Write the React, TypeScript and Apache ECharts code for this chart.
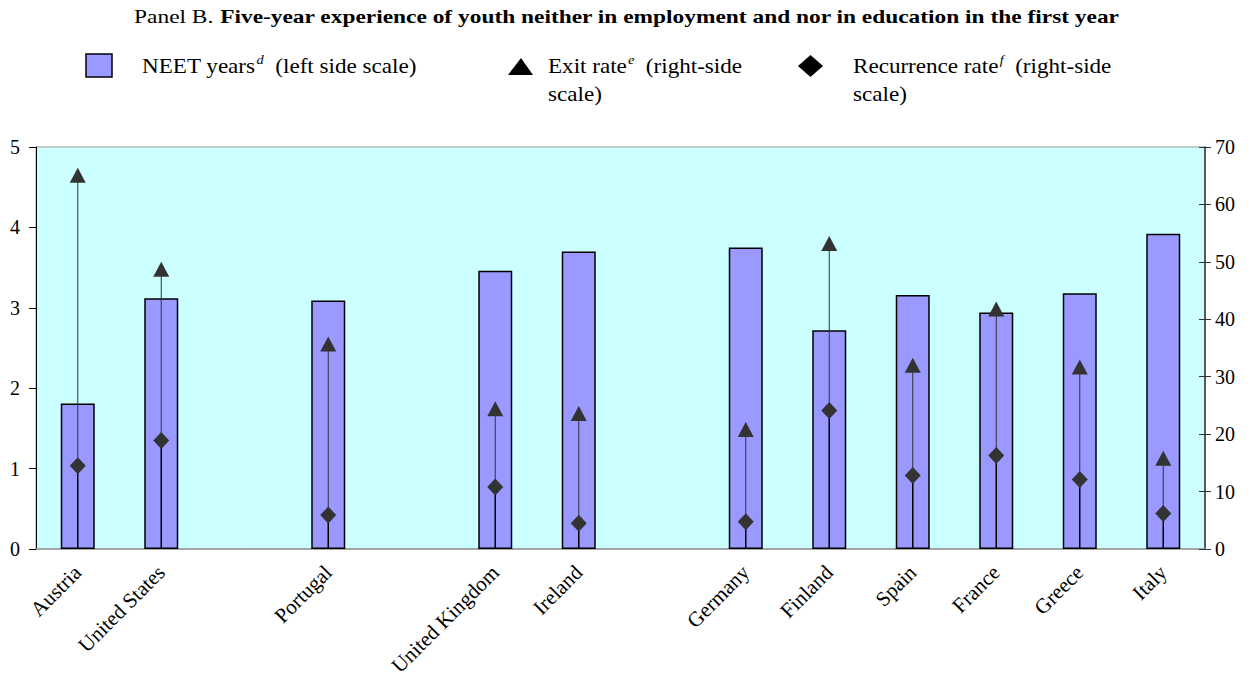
import React, { useEffect, useRef } from "react";
import * as echarts from "echarts";

const categories = ["Austria", "United States", "", "Portugal", "", "United Kingdom", "Ireland", "", "Germany", "Finland", "Spain", "France", "Greece", "Italy"];
const neetYears = [1.81, 3.12, null, 3.09, null, 3.46, 3.7, null, 3.75, 2.72, 3.16, 2.94, 3.18, 3.92];
const exitRate = [65.1, 48.7, null, 35.7, null, 24.4, 23.6, null, 20.8, 53.2, 32.0, 41.8, 31.7, 15.8];
const recurrenceRate = [14.5, 18.9, null, 5.9, null, 10.8, 4.5, null, 4.75, 24.1, 12.8, 16.3, 12.1, 6.2];
const leftTicks = [0, 5, 1];
const rightTicks = [0, 70, 10];

const FONT = "'Liberation Serif', 'Times New Roman', serif";

export default function App() {
  const ref = useRef<HTMLDivElement>(null);
  useEffect(() => {
    const chart = echarts.init(ref.current!, null, { renderer: "svg" });
    const lineData = categories
      .map((_, i) => [i, recurrenceRate[i], exitRate[i]])
      .filter((d) => d[1] != null && d[2] != null);
    const sup = { fontFamily: FONT, fontSize: 13, fontStyle: "italic", color: "#000", verticalAlign: "top", padding: [0, 0, 12, 1] };
    const norm = { fontFamily: FONT, fontSize: 21, color: "#000" };
    const LSX = 1.1;
    const option: any = {
      animation: false,
      textStyle: { fontFamily: FONT },
      grid: {
        left: 36,
        right: 47,
        top: 147,
        bottom: 135,
        show: true,
        backgroundColor: "#CCFFFF",
        borderColor: "#999",
        borderWidth: 1,
      },
      xAxis: {
        type: "category",
        data: categories,
        axisLine: { show: true, lineStyle: { color: "#999", width: 1.5 } },
        axisTick: { show: false },
        axisLabel: { interval: 0, rotate: 45, fontFamily: FONT, fontSize: 21, color: "#000", margin: 20, padding: [0, 0, 0, 0] },
      },
      yAxis: [
        {
          type: "value",
          min: leftTicks[0],
          max: leftTicks[1],
          interval: leftTicks[2],
          position: "left",
          axisLine: { show: true, lineStyle: { color: "#000", width: 1 } },
          axisTick: { show: true, length: 7, lineStyle: { color: "#000" } },
          axisLabel: { fontFamily: FONT, fontSize: 20, color: "#000", margin: 16 },
          splitLine: { show: false },
        },
        {
          type: "value",
          min: rightTicks[0],
          max: rightTicks[1],
          interval: rightTicks[2],
          position: "right",
          axisLine: { show: true, lineStyle: { color: "#333", width: 1.5 } },
          axisTick: { show: true, length: 6, lineStyle: { color: "#333" } },
          axisLabel: { fontFamily: FONT, fontSize: 20, color: "#000", margin: 10 },
          splitLine: { show: false },
        },
        {
          type: "value",
          min: rightTicks[0],
          max: rightTicks[1],
          interval: rightTicks[2],
          position: "right",
          axisLine: { show: false },
          axisTick: { show: true, inside: true, length: 6, lineStyle: { color: "#333" } },
          axisLabel: { show: false },
          splitLine: { show: false },
        },
      ],
      series: [
        {
          type: "bar",
          name: "NEET years",
          data: neetYears.map((v) => (v == null ? "-" : v)),
          barWidth: 34,
          itemStyle: { color: "#9999FF", borderColor: "#000", borderWidth: 1.5 },
          z: 2,
        },
        {
          type: "custom",
          yAxisIndex: 1,
          data: lineData,
          encode: { x: 0, y: 2 },
          z: 3,
          renderItem: (params: any, api: any) => {
            const x = api.value(0);
            const p0 = api.coord([x, 0]);
            const p1 = api.coord([x, api.value(1)]);
            const p2 = api.coord([x, api.value(2)]);
            return {
              type: "group",
              children: [
                { type: "line", shape: { x1: p0[0], y1: p0[1], x2: p1[0], y2: p1[1] }, style: { stroke: "#000", lineWidth: 1.5 } },
                { type: "line", shape: { x1: p1[0], y1: p1[1], x2: p2[0], y2: p2[1] }, style: { stroke: "#333", lineWidth: 1 } },
              ],
            };
          },
        },
        {
          type: "scatter",
          name: "Exit rate",
          yAxisIndex: 1,
          data: exitRate.map((v) => (v == null ? "-" : v)),
          symbol: "triangle",
          symbolSize: [16, 15],
          itemStyle: { color: "#333", opacity: 1 },
          z: 4,
        },
        {
          type: "scatter",
          name: "Recurrence rate",
          yAxisIndex: 1,
          data: recurrenceRate.map((v) => (v == null ? "-" : v)),
          symbol: "diamond",
          symbolSize: [16, 17],
          itemStyle: { color: "#333", opacity: 1 },
          z: 4,
        },
      ],
      graphic: [
        {
          type: "text",
          x: 627,
          y: 17,
          scaleX: 1.3,
          style: {
            text: "{a|Panel B. }{b|Five-year experience of youth neither in employment and nor in education in the first year}",
            align: "center",
            verticalAlign: "middle",
            fontFamily: FONT,
            fontSize: 18,
            rich: {
              a: { fontFamily: FONT, fontSize: 18, fontWeight: "normal", color: "#000" },
              b: { fontFamily: FONT, fontSize: 18, fontWeight: "bold", color: "#000" },
            },
          },
        },
        { type: "rect", shape: { x: 86, y: 54, width: 26, height: 23 }, style: { fill: "#9999FF", stroke: "#000", lineWidth: 1.5 } },
        {
          type: "text",
          x: 142,
          y: 66,
          scaleX: LSX,
          style: { text: "{n|NEET years}{s|d}{n|  (left side scale)}", fontFamily: FONT, fontSize: 21, verticalAlign: "middle", rich: { n: norm, s: sup } },
        },
        { type: "polygon", shape: { points: [[521, 58], [533, 75], [508, 75]] }, style: { fill: "#000" } },
        {
          type: "text",
          x: 548,
          y: 66,
          scaleX: LSX,
          style: { text: "{n|Exit rate}{s|e}{n|  (right-side}", fontFamily: FONT, fontSize: 21, verticalAlign: "middle", rich: { n: norm, s: sup } },
        },
        { type: "text", x: 548, y: 94, scaleX: LSX, style: { text: "scale)", fontFamily: FONT, fontSize: 21, fill: "#000", verticalAlign: "middle" } },
        { type: "polygon", shape: { points: [[810.5, 55], [823, 66], [810.5, 77], [798, 66]] }, style: { fill: "#000" } },
        {
          type: "text",
          x: 853,
          y: 66,
          scaleX: LSX,
          style: { text: "{n|Recurrence rate}{s|f}{n|  (right-side}", fontFamily: FONT, fontSize: 21, verticalAlign: "middle", rich: { n: norm, s: sup } },
        },
        { type: "text", x: 853, y: 94, scaleX: LSX, style: { text: "scale)", fontFamily: FONT, fontSize: 21, fill: "#000", verticalAlign: "middle" } },
      ],
    };
    chart.setOption(option);
    return () => chart.dispose();
  }, []);
  return <div ref={ref} style={{ position: "absolute", left: 0, top: 0, width: 1252, height: 684 }} />;
}
